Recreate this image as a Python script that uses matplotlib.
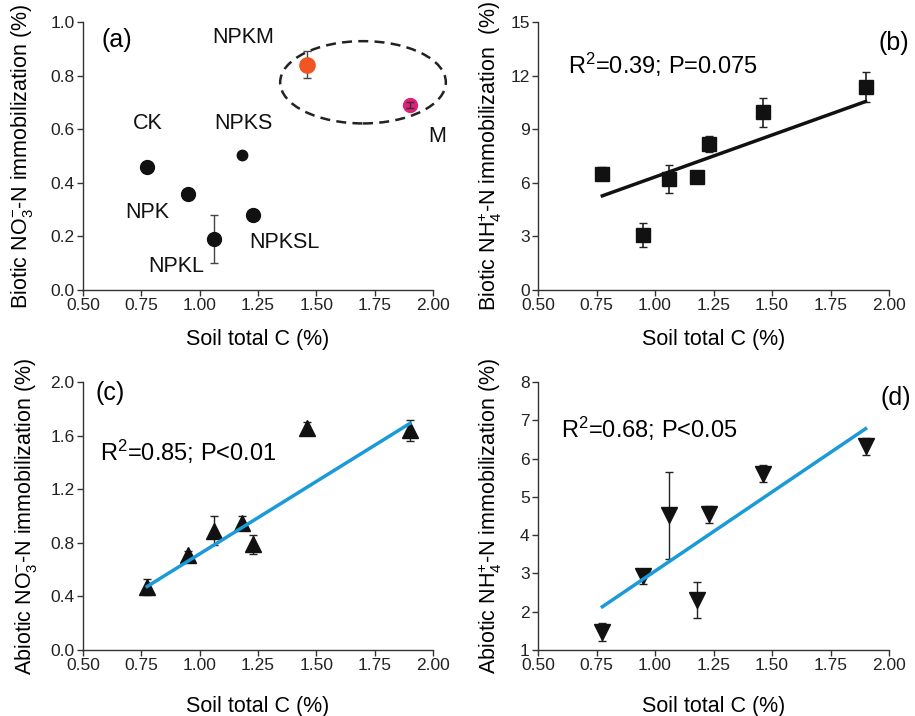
import matplotlib
matplotlib.use("Agg")
import matplotlib.pyplot as plt
from matplotlib.patches import Ellipse
import numpy as np

plt.rcParams['font.family'] = ['Liberation Sans', 'DejaVu Sans']
plt.rcParams['mathtext.fontset'] = 'custom'
plt.rcParams['mathtext.rm'] = 'Liberation Sans'
plt.rcParams['mathtext.it'] = 'Liberation Sans:italic'
plt.rcParams['mathtext.bf'] = 'Liberation Sans:bold'

# ---- data ----
treatments = ['CK', 'NPK', 'NPKL', 'NPKS', 'NPKSL', 'NPKM', 'M']
soil_c = [0.775, 0.95, 1.06, 1.18, 1.23, 1.46, 1.90]

bio_no3 = [0.46, 0.36, 0.19, 0.505, 0.28, 0.84, 0.69]
bio_no3_err = [0.0, 0.0, 0.09, 0.0, 0.0, 0.05, 0.01]

bio_nh4 = [6.52, 3.09, 6.22, 6.35, 8.18, 9.95, 11.37]
bio_nh4_err = [0.35, 0.68, 0.78, 0.1, 0.45, 0.8, 0.83]
bio_nh4_fit = [5.27, 10.55]

abio_no3 = [0.47, 0.71, 0.89, 0.95, 0.79, 1.66, 1.64]
abio_no3_err = [0.06, 0.03, 0.11, 0.05, 0.07, 0.04, 0.08]
abio_no3_fit = [0.474, 1.69]

abio_nh4 = [1.47, 2.92, 4.52, 2.3, 4.55, 5.61, 6.32]
abio_nh4_err = [0.23, 0.2, 1.14, 0.47, 0.22, 0.21, 0.22]
abio_nh4_fit = [2.13, 6.78]

fit_x = [0.775, 1.90]

xticks = [0.50, 0.75, 1.00, 1.25, 1.50, 1.75, 2.00]

W, H = 915, 716
fig = plt.figure(figsize=(W / 100, H / 100), dpi=100)

def mkax(l, r, t, b):
    return fig.add_axes([l / W, 1 - b / H, (r - l) / W, (b - t) / H])

axA = mkax(83, 433, 22, 290)
axB = mkax(538, 889, 22, 290)
axC = mkax(83, 433, 382, 650)
axD = mkax(538, 889, 382, 650)

spine_col = '#333333'
for ax in (axA, axB, axC, axD):
    ax.spines['top'].set_visible(False)
    ax.spines['right'].set_visible(False)
    for s in ('left', 'bottom'):
        ax.spines[s].set_color(spine_col)
        ax.spines[s].set_linewidth(1.0)
    ax.tick_params(direction='out', length=4, width=1, color=spine_col,
                   labelsize=12.5, labelcolor='#222222', pad=2)
    ax.set_xlim(0.5, 2.0)
    ax.set_xticks(xticks)
    ax.set_xticklabels([f'{v:.2f}' for v in xticks])

lab_fs = 15.5
ecol = '#444444'

# ---- (a) ----
axA.set_ylim(0, 1.0)
axA.set_yticks(np.arange(0, 1.01, 0.2))
axA.set_yticklabels([f'{v:.1f}' for v in np.arange(0, 1.01, 0.2)])
colors_a = ['#111111'] * 5 + ['#f05522', '#e0207a']
sizes_a = [10, 10, 10, 7.5, 10, 11, 10]
for i in range(len(soil_c)):
    if bio_no3_err[i] > 0:
        axA.errorbar(soil_c[i], bio_no3[i], yerr=bio_no3_err[i], fmt='none',
                     ecolor=ecol, elinewidth=1, capsize=3, zorder=2)
    axA.plot(soil_c[i], bio_no3[i], 'o', color=colors_a[i], ms=sizes_a[i],
             mec=colors_a[i], zorder=3)
# error bar drawn on top for M
axA.errorbar(soil_c[6], bio_no3[6], yerr=bio_no3_err[6], fmt='none',
             ecolor='#333333', elinewidth=1, capsize=3, zorder=4)
ell = Ellipse((1.70, 0.775), 0.71, 0.307, fill=False, ls=(0, (4, 2.5)),
              lw=1.8, color='#222222', clip_on=False, zorder=1)
axA.add_patch(ell)
label_pos = {'NPKM': (1.186, 0.944), 'CK': (0.779, 0.623), 'NPKS': (1.186, 0.623),
             'M': (2.017, 0.571), 'NPK': (0.774, 0.291), 'NPKSL': (1.363, 0.179),
             'NPKL': (0.90, 0.086)}
for name, (lx, ly) in label_pos.items():
    axA.text(lx, ly, name, fontsize=15.5, ha='center', va='center', color='#111111')
axA.text(0.644, 0.933, '(a)', fontsize=18, ha='center', va='center')
axA.set_xlabel('Soil total C (%)', fontsize=lab_fs, labelpad=11)
axA.set_ylabel(r'Biotic NO$_3^{-}$-N immobilization (%)', fontsize=lab_fs)
axA.yaxis.set_label_coords(-0.137, 0.5)

# ---- (b) ----
axB.set_ylim(0, 15)
axB.set_yticks(np.arange(0, 16, 3))
axB.errorbar(soil_c, bio_nh4, yerr=bio_nh4_err, fmt='none', ecolor='#222222',
             elinewidth=1.2, capsize=3, zorder=2)
axB.plot(soil_c, bio_nh4, 's', color='#111111', ms=10.5, zorder=3)
axB.plot(fit_x, bio_nh4_fit, '-', color='#111111', lw=2.5, zorder=2)
axB.text(0.628, 12.6, r'R$^2$=0.39; P=0.075', fontsize=17, ha='left', va='center')
axB.text(2.02, 13.8, '(b)', fontsize=18, ha='center', va='center', clip_on=False)
axB.set_xlabel('Soil total C (%)', fontsize=lab_fs, labelpad=11)
axB.set_ylabel(r'Biotic NH$_4^{+}$-N immobilization  (%)', fontsize=lab_fs)
axB.yaxis.set_label_coords(-0.096, 0.5)

# ---- (c) ----
axC.set_ylim(0, 2.0)
axC.set_yticks(np.arange(0, 2.01, 0.4))
axC.set_yticklabels([f'{v:.1f}' for v in np.arange(0, 2.01, 0.4)])
axC.errorbar(soil_c, abio_no3, yerr=abio_no3_err, fmt='none', ecolor='#222222',
             elinewidth=1, capsize=3, zorder=2)
axC.plot(soil_c, abio_no3, '^', color='#111111', ms=12, zorder=3)
axC.plot(fit_x, abio_no3_fit, '-', color='#1a9ad6', lw=2.5, zorder=4)
axC.text(0.573, 1.48, r'R$^2$=0.85; P<0.01', fontsize=17, ha='left', va='center')
axC.text(0.616, 1.92, '(c)', fontsize=18, ha='center', va='center')
axC.set_xlabel('Soil total C (%)', fontsize=lab_fs, labelpad=16)
axC.set_ylabel(r'Abiotic NO$_3^{-}$-N immobilization (%)', fontsize=lab_fs)
axC.yaxis.set_label_coords(-0.125, 0.5)

# ---- (d) ----
axD.set_ylim(1, 8)
axD.set_yticks(np.arange(1, 9, 1))
axD.errorbar(soil_c, abio_nh4, yerr=abio_nh4_err, fmt='none', ecolor='#222222',
             elinewidth=1, capsize=3, zorder=2)
axD.plot(soil_c, abio_nh4, 'v', color='#111111', ms=12, zorder=3)
axD.plot(fit_x, abio_nh4_fit, '-', color='#1a9ad6', lw=2.5, zorder=4)
axD.text(0.598, 6.77, r'R$^2$=0.68; P<0.05', fontsize=17, ha='left', va='center')
axD.text(2.03, 7.58, '(d)', fontsize=18, ha='center', va='center', clip_on=False)
axD.set_xlabel('Soil total C (%)', fontsize=lab_fs, labelpad=16)
axD.set_ylabel(r'Abiotic NH$_4^{+}$-N immobilization (%)', fontsize=lab_fs)
axD.yaxis.set_label_coords(-0.096, 0.5)

fig.savefig('out.png', dpi=100)
